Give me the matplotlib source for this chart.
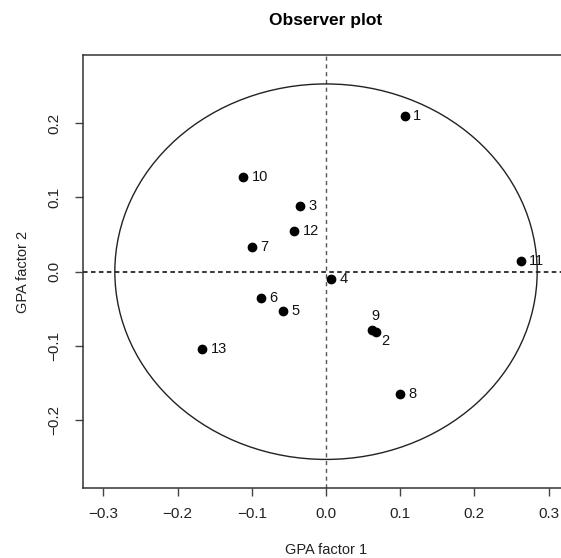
import matplotlib
matplotlib.use("Agg")
import matplotlib.pyplot as plt
from matplotlib.patches import Ellipse

plt.rcParams['font.family'] = ['Liberation Sans', 'DejaVu Sans']

# Data
observers = ['1', '2', '3', '4', '5', '6', '7', '8', '9', '10', '11', '12', '13']
factor1 = [0.106, 0.0674, -0.035, 0.0071, -0.0584, -0.0873, -0.0997, 0.0993, 0.0616, -0.1115, 0.2624, -0.0427, -0.1667]
factor2 = [0.210, -0.0817, 0.0885, -0.0094, -0.0536, -0.0354, 0.0329, -0.1644, -0.0786, 0.128, 0.014, 0.0549, -0.1038]
xticks = [-0.3, -0.2, -0.1, 0.0, 0.1, 0.2, 0.3]
yticks = [-0.2, -0.1, 0.0, 0.1, 0.2]
circle_rx = 0.2846
circle_ry = 0.253

W, H = 561, 558
fig = plt.figure(figsize=(W / 100, H / 100), dpi=100)
left_px, right_px, top_px, bottom_px = 83.3, 568.7, 55.0, 488.0
ax = fig.add_axes([left_px / W, 1 - bottom_px / H, (right_px - left_px) / W, (bottom_px - top_px) / H])
ax.set_xlim(-0.3271, 0.3271)
ax.set_ylim(-0.2915, 0.292)

ax.axhline(0, color='black', lw=1.1, ls=(0, (3.0, 2.2)), zorder=1)
ax.axvline(0, color='#555555', lw=1.0, ls=(0, (3.0, 2.6)), zorder=1)

ax.add_patch(Ellipse((0, 0), 2 * circle_rx, 2 * circle_ry, fill=False, ec='#222222', lw=1.0, zorder=2))

ax.plot(factor1, factor2, 'o', color='black', ms=6, zorder=3)

special = {'9': 'above', '2': 'belowright'}
for name, x, y in zip(observers, factor1, factor2):
    kind = special.get(name, 'right')
    if kind == 'right':
        ax.annotate(name, (x, y), xytext=(6.0, 0), textcoords='offset points',
                    ha='left', va='center', fontsize=10.5, color='#111111')
    elif kind == 'above':
        ax.annotate(name, (x, y), xytext=(2.5, 5), textcoords='offset points',
                    ha='center', va='bottom', fontsize=10.5, color='#111111')
    else:
        ax.annotate(name, (x, y), xytext=(3.5, -1.5), textcoords='offset points',
                    ha='left', va='top', fontsize=10.5, color='#111111')

ax.set_xticks(xticks)
ax.set_xticklabels([f"{v:.1f}".replace('-', '\u2212') for v in xticks])
ax.set_yticks(yticks)
ax.set_yticklabels([f"{v:.1f}".replace('-', '\u2212') for v in yticks], rotation=90, va='center')
ax.tick_params(axis='both', length=6, width=1.0, color='#444444', labelsize=11, labelcolor='#222222')
ax.tick_params(axis='x', pad=8)
ax.tick_params(axis='y', pad=10)
for s in ax.spines.values():
    s.set_color('#333333')
    s.set_linewidth(1.1)

ax.set_xlabel('GPA factor 1', fontsize=10.5, color='#222222')
ax.xaxis.set_label_coords(0.5, -0.126)
ax.set_ylabel('GPA factor 2', fontsize=10.5, color='#222222')
ax.yaxis.set_label_coords(-0.11, 0.5)

fig.text((left_px + right_px) / 2 / W, 1 - 20 / H, 'Observer plot', ha='center', va='center',
         fontsize=12.5, fontweight='bold')

fig.savefig('out.png', dpi=100)
